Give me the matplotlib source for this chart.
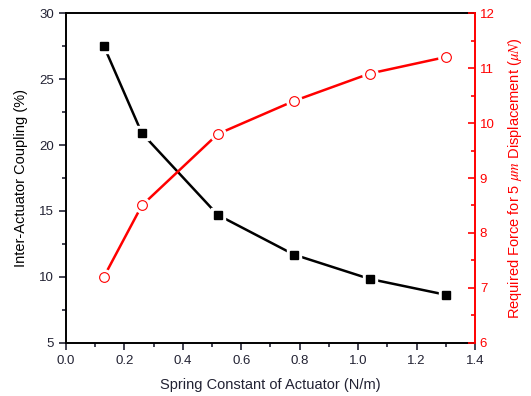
import matplotlib
matplotlib.use("Agg")
import matplotlib.pyplot as plt
from matplotlib.ticker import MultipleLocator

plt.rcParams['font.family'] = ['Liberation Sans', 'DejaVu Sans']
plt.rcParams['mathtext.fontset'] = 'stix'

spring_k = [0.13, 0.26, 0.52, 0.78, 1.04, 1.30]
coupling = [27.5, 20.9, 14.7, 11.7, 9.85, 8.65]
force = [7.2, 8.5, 9.8, 10.4, 10.9, 11.2]

fig = plt.figure(figsize=(5.31, 3.96), dpi=100)
ax1 = fig.add_axes([0.124, 0.134, 0.7705, 0.833])
ax2 = ax1.twinx()

# lines, then white halo markers to make the little gaps, then the real markers
ax1.plot(spring_k, coupling, color='black', lw=1.8, zorder=2)
ax1.plot(spring_k, coupling, ls='none', marker='s', ms=10, mfc='white', mec='white', zorder=3)
ax1.plot(spring_k, coupling, ls='none', marker='s', ms=6, mfc='black', mec='black', zorder=4)

ax2.plot(spring_k, force, color='red', lw=1.8, zorder=2)
ax2.plot(spring_k, force, ls='none', marker='o', ms=11, mfc='white', mec='white', zorder=3)
ax2.plot(spring_k, force, ls='none', marker='o', ms=7, mfc='white', mec='red', mew=0.8, zorder=4)

ax1.set_xlim(0, 1.4)
ax1.set_ylim(5, 30)
ax2.set_ylim(6, 12)

ax1.xaxis.set_major_locator(MultipleLocator(0.2))
ax1.xaxis.set_minor_locator(MultipleLocator(0.1))
ax1.yaxis.set_major_locator(MultipleLocator(5))
ax1.yaxis.set_minor_locator(MultipleLocator(2.5))
ax2.yaxis.set_major_locator(MultipleLocator(1))
ax2.yaxis.set_minor_locator(MultipleLocator(0.5))

ax1.xaxis.set_major_formatter(plt.FuncFormatter(lambda v, p: f"{v:.1f}"))

ax1.tick_params(axis='both', which='major', direction='out', length=5, width=1.2,
                labelsize=9.5, colors='#222233')
ax1.tick_params(axis='both', which='minor', direction='out', length=3, width=1.2,
                colors='#222233')
ax2.tick_params(axis='y', which='major', direction='in', length=5, width=1.2,
                labelsize=9.5, colors='red')
ax2.tick_params(axis='y', which='minor', direction='in', length=3, width=1.2,
                colors='red')

for s in ['left', 'bottom', 'top']:
    ax1.spines[s].set_linewidth(1.4)
ax1.spines['right'].set_visible(False)
ax2.spines['left'].set_visible(False)
ax2.spines['bottom'].set_visible(False)
ax2.spines['top'].set_visible(False)
ax2.spines['right'].set_color('red')
ax2.spines['right'].set_linewidth(1.4)

ax1.set_xlabel("Spring Constant of Actuator (N/m)", fontsize=10.5, color='#222233', labelpad=8)
ax1.set_ylabel("Inter-Actuator Coupling (%)", fontsize=10.5, color='black', labelpad=8)
ax2.set_ylabel(r"Required Force for 5 $\mu m$ Displacement ($\mu N$)", fontsize=10.5,
               color='red', labelpad=8)

fig.savefig("out.png", dpi=100)
